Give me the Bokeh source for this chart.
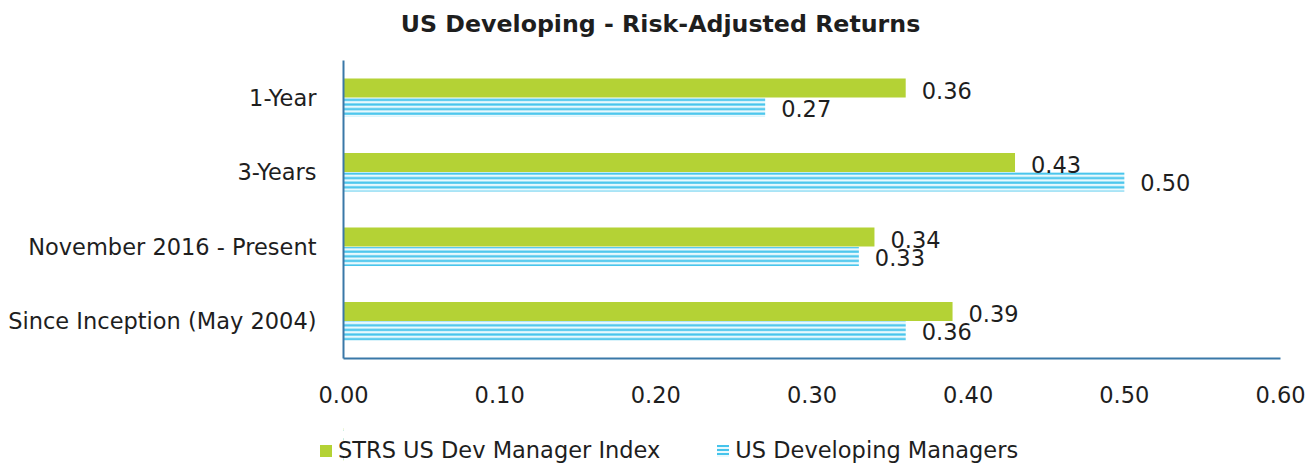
from bokeh.plotting import figure
from bokeh.layouts import column
from bokeh.models import (ColumnDataSource, FactorRange, Range1d, FixedTicker, NumeralTickFormatter,
                          Legend, LegendItem, Label)
from bokeh.transform import dodge
from bokeh.embed import file_html
from bokeh.resources import INLINE
from bokeh.core.properties import value

categories = ["1-Year", "3-Years", "November 2016 - Present", "Since Inception (May 2004)"]
index_vals = [0.36, 0.43, 0.34, 0.39]
managers_vals = [0.27, 0.50, 0.33, 0.36]
x_ticks = [0.0, 0.1, 0.2, 0.3, 0.4, 0.5, 0.6]
series_names = ["STRS US Dev Manager Index", "US Developing Managers"]
title_text = "US Developing - Risk-Adjusted Returns"

FONT = "DejaVu Sans"
FS = "22.5px"
TXT = "#1e1e1e"
AXIS_C = "#3a78a8"
GREEN = "#b4d235"
CYAN = "#46c4ec"
LIGHT = "#e9f9fd"
W = 1307


def bare(fig):
    fig.min_border = 0
    fig.outline_line_color = None
    fig.xgrid.grid_line_color = None
    fig.ygrid.grid_line_color = None
    return fig


src = ColumnDataSource(dict(
    cat=categories,
    idx=index_vals,
    mgr=managers_vals,
    idx_lbl=["%.2f" % v for v in index_vals],
    mgr_lbl=["%.2f" % v for v in managers_vals],
))

# ---- title strip ----
tt = bare(figure(frame_width=W, frame_height=46, output_backend="svg", toolbar_location=None,
                 x_axis_location=None, y_axis_location=None,
                 x_range=Range1d(0, 1), y_range=Range1d(0, 1)))
tt.add_layout(Label(x=317, y=23, x_units="screen", y_units="screen", text=title_text,
                    text_align="center", text_baseline="middle",
                    text_font=FONT, text_font_size="23.7px", text_font_style="bold",
                    text_color=TXT))

# ---- main chart ----
p = figure(frame_width=937, frame_height=298, output_backend="svg", toolbar_location=None,
           y_range=FactorRange(factors=list(reversed(categories))),
           x_range=Range1d(0, 0.6))
bare(p)
p.min_border_left = 343
p.min_border_right = 27
p.min_border_top = 14
p.min_border_bottom = 66

bh = 0.255
r1 = p.hbar(y=dodge("cat", 0.13, range=p.y_range), right="idx", left=0, height=bh,
            source=src, fill_color=GREEN, line_color=None)
r2 = p.hbar(y=dodge("cat", -0.13, range=p.y_range), right="mgr", left=0, height=bh,
            source=src, fill_color=LIGHT, line_color=None,
            hatch_pattern="horizontal_line", hatch_color=CYAN, hatch_scale=4.6, hatch_weight=2.2)

p.text(x="idx", y=dodge("cat", 0.10, range=p.y_range), text="idx_lbl", source=src,
       x_offset=16, text_baseline="middle", text_align="left",
       text_font=value(FONT), text_font_size=FS, text_color=TXT)
p.text(x="mgr", y=dodge("cat", -0.14, range=p.y_range), text="mgr_lbl", source=src,
       x_offset=16, text_baseline="middle", text_align="left",
       text_font=value(FONT), text_font_size=FS, text_color=TXT)

for ax in (p.xaxis[0], p.yaxis[0]):
    ax.axis_line_color = AXIS_C
    ax.axis_line_width = 2
    ax.major_tick_line_color = None
    ax.minor_tick_line_color = None
    ax.major_label_text_font = FONT
    ax.major_label_text_font_size = FS
    ax.major_label_text_color = TXT

p.xaxis.ticker = FixedTicker(ticks=x_ticks)
p.xaxis.formatter = NumeralTickFormatter(format="0.00")
p.xaxis.major_label_standoff = 21
p.yaxis.major_label_standoff = 21

# ---- legend strip (its bars sit outside the strip's visible x range) ----
lg = bare(figure(frame_width=W, frame_height=40, output_backend="svg", toolbar_location=None,
                 x_axis_location=None, y_axis_location=None,
                 y_range=FactorRange(factors=list(reversed(categories))), x_range=Range1d(10, 11)))
g1 = lg.hbar(y="cat", right="idx", left=0, height=bh, source=src,
             fill_color=GREEN, line_color=None)
g2 = lg.hbar(y="cat", right="mgr", left=0, height=bh, source=src,
             fill_color=LIGHT, line_color=None,
             hatch_pattern="horizontal_line", hatch_color=CYAN, hatch_scale=4.0, hatch_weight=2.0)
legend = Legend(items=[LegendItem(label=series_names[0], renderers=[g1]),
                       LegendItem(label=series_names[1], renderers=[g2])],
                orientation="horizontal", location=(318, 1),
                label_text_font=FONT, label_text_font_size=FS, label_text_color=TXT,
                glyph_width=15, glyph_height=15, label_standoff=5, spacing=55,
                padding=0, margin=0, border_line_color=None, background_fill_alpha=0)
lg.add_layout(legend, "center")

layout = column(tt, p, lg, spacing=0)
open("out.html", "w").write(file_html(layout, INLINE))
